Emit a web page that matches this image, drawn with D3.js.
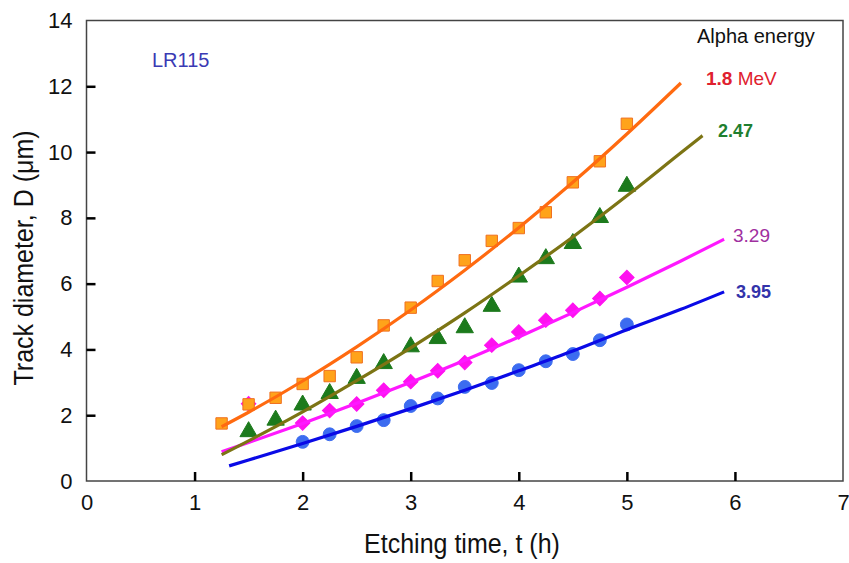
<!DOCTYPE html>
<html>
<head>
<meta charset="utf-8">
<script src="https://cdn.jsdelivr.net/npm/d3@7"></script>
<style>
  body { margin: 0; background: #fff; }
  text { font-family: "Liberation Sans", Arial, sans-serif; }
</style>
</head>
<body>
<svg id="chart" width="849" height="563"></svg>
<script>
// measured points (etching time in h, track diameter in um)
var orangeT = [1.25, 1.5, 1.75, 2, 2.25, 2.5, 2.75, 3, 3.25, 3.5, 3.75, 4, 4.25, 4.5, 4.75, 5];
var orangeD = [1.75, 2.33, 2.53, 2.95, 3.19, 3.76, 4.73, 5.27, 6.08, 6.71, 7.30, 7.69, 8.17, 9.08, 9.72, 10.86];
var greenT = [1.5, 1.75, 2, 2.25, 2.5, 2.75, 3, 3.25, 3.5, 3.75, 4, 4.25, 4.5, 4.75, 5];
var greenD = [1.50, 1.85, 2.31, 2.66, 3.12, 3.57, 4.08, 4.33, 4.66, 5.31, 6.20, 6.76, 7.22, 8.01, 8.96];
var pinkT = [1.5, 2, 2.25, 2.5, 2.75, 3, 3.25, 3.5, 3.75, 4, 4.25, 4.5, 4.75, 5];
var pinkD = [2.35, 1.76, 2.14, 2.34, 2.76, 3.02, 3.35, 3.60, 4.13, 4.53, 4.89, 5.19, 5.55, 6.19];
var blueT = [2, 2.25, 2.5, 2.75, 3, 3.25, 3.5, 3.75, 4, 4.25, 4.5, 4.75, 5];
var blueD = [1.19, 1.42, 1.67, 1.85, 2.28, 2.51, 2.86, 2.98, 3.37, 3.64, 3.86, 4.28, 4.76];

// fitted curves
var orangeFitT = [1.25, 1.5, 2, 2.5, 3, 3.5, 4, 4.5, 5, 5.5];
var orangeFitD = [1.65, 2.09, 3.04, 4.08, 5.2, 6.41, 7.70, 9.08, 10.55, 12.1];
var greenFitT = [1.25, 1.5, 2, 2.5, 3, 3.5, 4, 4.5, 5, 5.5, 5.7];
var greenFitD = [0.8, 1.22, 2.10, 3.05, 4.05, 5.11, 6.24, 7.42, 8.67, 9.98, 10.5];
var pinkFitT = [1.25, 1.5, 2, 2.5, 3, 3.5, 4, 4.5, 5, 5.5, 5.9];
var pinkFitD = [0.89, 1.17, 1.75, 2.36, 3.0, 3.67, 4.38, 5.12, 5.89, 6.69, 7.35];
var blueFitT = [1.32, 1.5, 2, 2.5, 3, 3.5, 4, 4.5, 5, 5.5, 5.9];
var blueFitD = [0.46, 0.64, 1.14, 1.66, 2.2, 2.76, 3.35, 3.95, 4.6, 5.22, 5.75];

var xTicks = [0, 1, 2, 3, 4, 5, 6, 7];
var yTicks = [0, 2, 4, 6, 8, 10, 12, 14];

var svg = d3.select('#chart');
var x = d3.scaleLinear().domain([0, 7]).range([86.5, 843]);
var y = d3.scaleLinear().domain([0, 14]).range([481, 20.5]);

// frame
svg.append('rect')
    .attr('x', x(0)).attr('y', y(14))
    .attr('width', x(7) - x(0)).attr('height', y(0) - y(14))
    .attr('fill', 'none').attr('stroke', '#444').attr('stroke-width', 1.5);

// axes, ticks pointing inward
var xAxis = svg.append('g')
    .attr('transform', 'translate(0,' + y(0) + ')')
    .call(d3.axisBottom(x).tickValues(xTicks).tickSize(-9).tickPadding(13).tickFormat(d3.format('d')));
var yAxis = svg.append('g')
    .attr('transform', 'translate(' + x(0) + ',0)')
    .call(d3.axisLeft(y).tickValues(yTicks).tickSize(-9).tickPadding(14).tickFormat(d3.format('d')));
[xAxis, yAxis].forEach(function(g) {
    g.select('.domain').remove();
    g.selectAll('.tick line').attr('stroke', '#000').attr('stroke-width', 2.5);
    g.selectAll('.tick text').attr('fill', '#111')
        .style('font-size', '22px').style('font-family', '"Liberation Sans", Arial, sans-serif');
});
// hide the ticks that sit on the frame
xAxis.selectAll('.tick').filter(function(d) { return d == 0 || d == 7; }).select('line').remove();
yAxis.selectAll('.tick').filter(function(d) { return d == 0 || d == 14; }).select('line').remove();

// axis titles
svg.append('text')
    .attr('transform', 'translate(462,553) scale(1,1.1)')
    .attr('text-anchor', 'middle').style('font-size', '25px').attr('fill', '#111')
    .text('Etching time, t (h)');
svg.append('text')
    .attr('transform', 'translate(33,258) rotate(-90) scale(1,1.1)')
    .attr('text-anchor', 'middle').style('font-size', '25px').attr('fill', '#111')
    .text('Track diameter, D (μm)');

// series
var series = [
    {t: blueT, d: blueD, ft: blueFitT, fd: blueFitD, line: '#0a0ae6', fill: '#3c6cf0', stroke: '#3c6cf0', sym: d3.symbolCircle, size: 130, rot: 0},
    {t: pinkT, d: pinkD, ft: pinkFitT, fd: pinkFitD, line: '#ff18ff', fill: '#ff10f0', stroke: '#ff10f0', sym: d3.symbolSquare, size: 105, rot: 45},
    {t: greenT, d: greenD, ft: greenFitT, fd: greenFitD, line: '#7c7414', fill: '#1c7a1c', stroke: '#1c7a1c', sym: d3.symbolTriangle, size: 130, rot: 0},
    {t: orangeT, d: orangeD, ft: orangeFitT, fd: orangeFitD, line: '#ff6a10', fill: '#ffa31a', stroke: '#f07020', sym: d3.symbolSquare, size: 130, rot: 0}
];

var line = d3.line()
    .x(function(p) { return x(p[0]); })
    .y(function(p) { return y(p[1]); })
    .curve(d3.curveMonotoneX);

series.forEach(function(s) {
    svg.append('g').selectAll('path')
        .data(d3.zip(s.t, s.d))
        .enter()
        .append('path')
        .attr('transform', function(p) {
            return 'translate(' + x(p[0]) + ',' + y(p[1]) + ') rotate(' + s.rot + ')';
        })
        .attr('d', d3.symbol().type(s.sym).size(s.size))
        .attr('fill', s.fill)
        .attr('stroke', s.stroke)
        .attr('stroke-width', 1);
});
series.forEach(function(s) {
    svg.append('path')
        .datum(d3.zip(s.ft, s.fd))
        .attr('d', line)
        .attr('fill', 'none')
        .attr('stroke', s.line)
        .attr('stroke-width', 3.2);
});

// annotations
svg.append('text').attr('x', 152).attr('y', 67).style('font-size', '20px').attr('fill', '#3a3ab4').text('LR115');
svg.append('text').attr('x', 697).attr('y', 43).style('font-size', '20px').attr('fill', '#111').text('Alpha energy');
var mev = svg.append('text').attr('x', 706).attr('y', 85).style('font-size', '19px').attr('fill', '#e0202e');
mev.append('tspan').style('font-weight', 'bold').text('1.8');
mev.append('tspan').text(' MeV');
svg.append('text').attr('x', 718).attr('y', 137).style('font-size', '18px').style('font-weight', 'bold').attr('fill', '#1f7f2f').text('2.47');
svg.append('text').attr('x', 733).attr('y', 242).style('font-size', '19px').attr('fill', '#a0309f').text('3.29');
svg.append('text').attr('x', 736).attr('y', 298).style('font-size', '18px').style('font-weight', 'bold').attr('fill', '#3333aa').text('3.95');
</script>
</body>
</html>
